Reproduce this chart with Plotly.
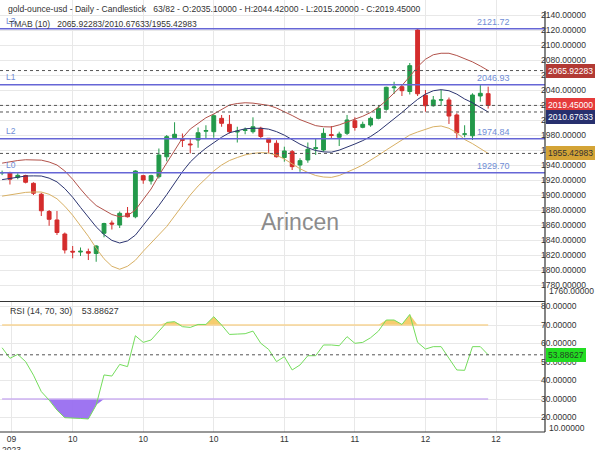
import plotly.graph_objects as go

# ---------------- data ----------------
idx = list(range(63))
opens = [1929.5, 1929.8, 1923.6, 1926.0, 1915.6, 1901.0, 1878.0, 1866.7, 1848.0, 1825.0,
         1824.0, 1824.5, 1822.0, 1849.0, 1862.6, 1860.0, 1875.6, 1871.0, 1925.8, 1918.7,
         1924.4, 1951.0, 1976.4, 1974.0, 1968.0, 1973.3, 1985.0, 1984.4, 2002.2, 1994.2,
         1984.0, 1986.0, 1984.4, 1989.0, 1975.6, 1969.0, 1950.0, 1957.8, 1940.0, 1946.7,
         1962.0, 1960.0, 1980.5, 1977.0, 1982.2, 1999.0, 1990.2, 1993.3, 2002.2, 2014.2,
         2043.0, 2044.4, 2038.0, 2120.0, 2033.0, 2019.0, 2026.5, 2026.7, 2006.7, 1981.0,
         1979.0, 2032.0, 2035.1]
highs = [1932.5, 1931.0, 1929.0, 1927.0, 1917.0, 1903.0, 1880.0, 1878.7, 1850.0, 1832.0,
         1830.0, 1828.5, 1833.0, 1863.0, 1866.0, 1878.0, 1884.0, 1933.0, 1927.0, 1927.0,
         1962.0, 1980.0, 1997.0, 1982.0, 1975.6, 1990.0, 1993.0, 2007.6, 2006.7, 2006.7,
         1991.0, 1990.0, 2003.6, 1991.0, 1976.0, 1973.0, 1964.4, 1960.0, 1949.0, 1970.0,
         1975.6, 1989.0, 1992.0, 1984.4, 2006.7, 2003.6, 1997.8, 2004.4, 2020.0, 2044.4,
         2051.0, 2046.7, 2076.0, 2121.7, 2040.0, 2032.0, 2040.0, 2030.0, 2009.0, 1993.0,
         2035.6, 2046.9, 2044.42]
lows = [1926.5, 1914.0, 1921.0, 1915.5, 1900.0, 1872.0, 1859.0, 1846.7, 1822.0, 1815.6,
        1818.7, 1813.3, 1811.0, 1843.6, 1854.0, 1856.0, 1870.0, 1869.0, 1915.0, 1914.0,
        1922.0, 1945.0, 1975.6, 1964.0, 1955.6, 1963.0, 1975.6, 1976.4, 1991.0, 1982.0,
        1970.0, 1981.0, 1982.0, 1974.7, 1955.6, 1950.0, 1944.4, 1933.3, 1931.0, 1943.0,
        1953.3, 1957.8, 1975.6, 1965.3, 1980.0, 1985.8, 1989.0, 1991.0, 2001.0, 2012.4,
        2034.7, 2032.0, 2034.0, 2032.0, 2011.0, 2017.8, 2019.0, 1994.7, 1974.2, 1977.0,
        1973.3, 2024.4, 2015.2]
closes = [1930.0, 1921.0, 1926.2, 1917.0, 1902.3, 1879.0, 1867.6, 1850.0, 1826.7, 1824.0,
          1825.0, 1822.5, 1832.0, 1862.0, 1861.3, 1875.6, 1871.0, 1932.0, 1920.0, 1925.8,
          1953.3, 1977.8, 1981.0, 1973.0, 1967.0, 1983.0, 1986.0, 2005.8, 1995.6, 1984.4,
          1985.0, 1987.0, 1991.0, 1978.0, 1970.2, 1951.0, 1958.7, 1937.8, 1945.8, 1961.0,
          1963.0, 1982.2, 1979.5, 1981.3, 2000.0, 1990.0, 1994.2, 2002.2, 2015.6, 2043.6,
          2044.0, 2039.1, 2072.5, 2035.0, 2019.0, 2026.7, 2027.0, 2005.3, 1983.0, 1981.5,
          2033.3, 2035.6, 2019.45]

tma_upper = [1942.5, 1944.5, 1946.0, 1947.0, 1947.0, 1946.5, 1944.0, 1940.0, 1932.0, 1921.0,
             1908.0, 1896.0, 1886.0, 1879.5, 1874.0, 1871.0, 1872.5, 1880.0, 1894.0, 1908.0,
             1926.0, 1943.0, 1960.0, 1976.0, 1988.0, 1996.0, 2003.0, 2008.0, 2014.0, 2020.0,
             2022.0, 2023.0, 2022.5, 2021.5, 2019.5, 2016.0, 2011.5, 2006.0, 2000.5, 1996.0,
             1992.5, 1991.0, 1990.7, 1993.5, 1997.0, 2001.0, 2005.0, 2010.0, 2017.0, 2026.0,
             2036.0, 2046.0, 2058.0, 2071.0, 2081.0, 2087.0, 2089.0, 2089.0, 2086.0, 2082.0,
             2077.5, 2072.0, 2065.92283]
tma_mid = [1920.5, 1922.3, 1924.0, 1925.3, 1925.5, 1925.3, 1922.5, 1917.5, 1908.5, 1897.0,
           1883.5, 1870.5, 1857.5, 1847.3, 1839.5, 1836.0, 1838.8, 1846.5, 1859.5, 1872.0,
           1886.0, 1900.5, 1916.0, 1931.0, 1944.0, 1954.0, 1962.5, 1970.0, 1977.0, 1983.0,
           1986.0, 1988.3, 1989.0, 1989.0, 1987.8, 1984.5, 1979.8, 1973.5, 1967.8, 1963.0,
           1959.3, 1957.5, 1957.1, 1959.8, 1963.5, 1968.0, 1972.5, 1978.0, 1985.0, 1993.0,
           2001.5, 2010.0, 2019.0, 2027.5, 2034.5, 2039.0, 2040.5, 2039.0, 2034.5, 2028.0,
           2023.0, 2017.0, 2010.67633]
tma_lower = [1898.5, 1900.0, 1902.0, 1903.5, 1904.0, 1904.0, 1901.0, 1895.0, 1885.0, 1873.0,
             1859.0, 1845.0, 1829.0, 1815.0, 1805.0, 1801.0, 1805.0, 1813.0, 1825.0, 1836.0,
             1846.0, 1858.0, 1872.0, 1886.0, 1900.0, 1912.0, 1922.0, 1932.0, 1940.0, 1946.0,
             1950.0, 1953.5, 1955.5, 1956.5, 1956.0, 1953.0, 1948.0, 1941.0, 1935.0, 1930.0,
             1926.0, 1924.0, 1923.5, 1926.0, 1930.0, 1935.0, 1940.0, 1946.0, 1953.0, 1960.0,
             1967.0, 1974.0, 1980.0, 1984.0, 1988.0, 1991.0, 1992.0, 1989.0, 1983.0, 1974.0,
             1968.5, 1962.0, 1955.42983]

rsi = [57.7, 52.0, 54.1, 50.2, 42.9, 34.0, 29.4, 24.0, 19.9, 19.5,
       19.5, 19.2, 26.7, 43.0, 42.4, 48.7, 47.5, 64.2, 60.6, 61.9,
       66.4, 71.4, 71.8, 69.1, 68.7, 70.3, 70.3, 74.5, 70.0, 64.9,
       65.1, 65.3, 66.7, 60.1, 56.8, 50.2, 52.9, 45.7, 48.4, 53.4,
       53.4, 59.2, 59.2, 58.8, 63.7, 60.1, 60.6, 63.1, 66.7, 72.7,
       72.7, 70.3, 75.7, 60.6, 57.0, 58.3, 58.3, 52.3, 45.7, 45.5,
       58.3, 58.3, 53.88627]

level_names = ["L3", "L1", "L2", "L0"]
level_values = [2121.72, 2046.93, 1974.84, 1929.70]
last_close = 2019.45
rsi_upper_level = 70
rsi_lower_level = 30

x_tick_vals = [1.2, 9, 18, 27, 36, 45, 54, 63]
x_tick_text = ["09<br>2023", "10", "10", "10", "11", "11", "12", "12"]
price_ticks = list(range(1780, 2141, 20))
rsi_ticks = list(range(20, 81, 10))

# ---------------- styles ----------------
FONT = "Liberation Sans, Arial, sans-serif"
GREEN = "#23994a"
RED = "#d42c2c"
TXT = "#333333"
GRID = "#e8e8e8"
BLUE_LINE = "#6666d6"
BLUE_TXT = "#6f8dd6"

H = 432.0  # plot area height in px
def py(pix):
    return (H - pix) / H

fig = go.Figure()

# TMA bands
fig.add_trace(go.Scatter(x=idx, y=tma_upper, mode="lines", line=dict(color="#b2524a", width=1),
                         hoverinfo="skip", xaxis="x", yaxis="y"))
fig.add_trace(go.Scatter(x=idx, y=tma_mid, mode="lines", line=dict(color="#2b3470", width=1),
                         hoverinfo="skip", xaxis="x", yaxis="y"))
fig.add_trace(go.Scatter(x=idx, y=tma_lower, mode="lines", line=dict(color="#d8b064", width=1),
                         hoverinfo="skip", xaxis="x", yaxis="y"))

# candles
fig.add_trace(go.Candlestick(x=idx, open=opens, high=highs, low=lows, close=closes,
                             increasing=dict(line=dict(color=GREEN, width=1), fillcolor=GREEN),
                             decreasing=dict(line=dict(color=RED, width=1), fillcolor=RED),
                             whiskerwidth=0, xaxis="x", yaxis="y", hoverinfo="skip"))

# RSI fills
rsi_low_part = [min(v, rsi_lower_level) for v in rsi]
rsi_high_part = [max(v, rsi_upper_level) for v in rsi]
fig.add_trace(go.Scatter(x=idx, y=[rsi_lower_level] * len(idx), mode="lines",
                         line=dict(color="rgba(0,0,0,0)", width=0), xaxis="x2", yaxis="y2", hoverinfo="skip"))
fig.add_trace(go.Scatter(x=idx, y=rsi_low_part, mode="lines", line=dict(color="rgba(0,0,0,0)", width=0),
                         fill="tonexty", fillcolor="rgba(150,105,240,0.92)", xaxis="x2", yaxis="y2", hoverinfo="skip"))
fig.add_trace(go.Scatter(x=idx, y=[rsi_upper_level] * len(idx), mode="lines",
                         line=dict(color="rgba(0,0,0,0)", width=0), xaxis="x2", yaxis="y2", hoverinfo="skip"))
fig.add_trace(go.Scatter(x=idx, y=rsi_high_part, mode="lines", line=dict(color="rgba(0,0,0,0)", width=0),
                         fill="tonexty", fillcolor="rgba(245,200,95,0.9)", xaxis="x2", yaxis="y2", hoverinfo="skip"))
# RSI level lines
fig.add_trace(go.Scatter(x=[idx[0], idx[-1]], y=[rsi_upper_level] * 2, mode="lines",
                         line=dict(color="#f7d595", width=1.5), xaxis="x2", yaxis="y2", hoverinfo="skip"))
fig.add_trace(go.Scatter(x=[idx[0], idx[-1]], y=[rsi_lower_level] * 2, mode="lines",
                         line=dict(color="#cdb0f2", width=1.5), xaxis="x2", yaxis="y2", hoverinfo="skip"))
# RSI line
fig.add_trace(go.Scatter(x=idx, y=rsi, mode="lines", line=dict(color="#74dd5c", width=1),
                         xaxis="x2", yaxis="y2", hoverinfo="skip"))

shapes = []
# level lines (blue)
for v in level_values:
    shapes.append(dict(type="line", xref="paper", x0=0, x1=1, yref="y", y0=v, y1=v,
                       line=dict(color=BLUE_LINE, width=1.5)))
# dotted lines
for v in [tma_upper[-1], last_close, tma_mid[-1], tma_lower[-1]]:
    shapes.append(dict(type="line", xref="paper", x0=0, x1=1, yref="y", y0=v, y1=v,
                       line=dict(color="#555555", width=1, dash="dot")))
shapes.append(dict(type="line", xref="paper", x0=0, x1=1, yref="y2", y0=rsi[-1], y1=rsi[-1],
                   line=dict(color="#555555", width=1, dash="dot")))
# frame lines
shapes.append(dict(type="line", xref="paper", x0=1, x1=1, yref="paper", y0=0, y1=py(11),
                   line=dict(color="#333333", width=1.2)))
shapes.append(dict(type="line", xref="paper", x0=0, x1=1, yref="paper", y0=py(301.5), y1=py(301.5),
                   line=dict(color="#333333", width=1.2)))
shapes.append(dict(type="line", xref="paper", x0=0, x1=1, yref="paper", y0=0, y1=0,
                   line=dict(color="#333333", width=1.2)))

ann = []
# header texts
ann.append(dict(xref="paper", yref="paper", x=6 / 545, y=py(9), xanchor="left", yanchor="middle",
                text="gold-ounce-usd - Daily - Candlestick   63/82 - O:2035.10000 - H:2044.42000 - L:2015.20000 - C:2019.45000",
                showarrow=False, font=dict(size=8.6, color=TXT, family=FONT)))
ann.append(dict(xref="paper", yref="paper", x=7 / 545, y=py(24.5), xanchor="left", yanchor="middle",
                text="TMAB (10)   %.5f/%.5f/%.5f" % (tma_upper[-1], tma_mid[-1], tma_lower[-1]),
                showarrow=False, font=dict(size=8.5, color=TXT, family=FONT)))
ann.append(dict(xref="paper", yref="paper", x=8 / 545, y=py(311), xanchor="left", yanchor="middle",
                text="RSI (14, 70, 30)    %.5f" % rsi[-1],
                showarrow=False, font=dict(size=8.8, color=TXT, family=FONT)))
# watermark
ann.append(dict(xref="paper", yref="paper", x=300 / 545, y=py(222), xanchor="center", yanchor="middle",
                text="Arincen", showarrow=False, font=dict(size=23, color="#8c8c8c", family=FONT)))
# level labels
for name, v in zip(level_names, level_values):
    ann.append(dict(xref="paper", yref="y", x=4 / 545, y=v, yshift=8, xanchor="left", yanchor="middle",
                    text=name, showarrow=False, font=dict(size=8.5, color=BLUE_TXT, family=FONT)))
    ann.append(dict(xref="paper", yref="y", x=493 / 545, y=v, yshift=7, xanchor="center", yanchor="middle",
                    text="%.2f" % v, showarrow=False, font=dict(size=9, color=BLUE_TXT, family=FONT)))
# price boxes
boxes = [(tma_upper[-1], "#b23a34", "white", 0, "y"),
         (last_close, "#e53b3b", "white", 0, "y"),
         (tma_mid[-1], "#27306e", "white", -5, "y"),
         (tma_lower[-1], "#d4a436", "#333333", 0, "y"),
         (rsi[-1], "#22dd22", "#224422", 0, "y2")]
for v, bg, fc, ys, yr in boxes:
    ann.append(dict(xref="paper", yref=yr, x=1, xshift=1, y=v, yshift=ys, xanchor="left", yanchor="middle",
                    text="%.5f" % v, showarrow=False, bgcolor=bg, bordercolor=bg, borderpad=1,
                    font=dict(size=8.5, color=fc, family=FONT)))
# clamped bottom labels
ann.append(dict(xref="paper", yref="paper", x=1, xshift=2, y=py(291), xanchor="left", yanchor="middle",
                text="1760.00000", showarrow=False, font=dict(size=8.5, color=TXT, family=FONT)))
ann.append(dict(xref="paper", yref="paper", x=1, xshift=2, y=py(428), xanchor="left", yanchor="middle",
                text="10.00000", showarrow=False, font=dict(size=8.5, color=TXT, family=FONT)))

xr = [-0.268, 69.25]
main_ticks = x_tick_vals[1:]
fig.update_layout(
    width=600, height=450, margin=dict(l=0, r=55, t=0, b=18),
    paper_bgcolor="white", plot_bgcolor="white", showlegend=False,
    font=dict(family=FONT, size=8.5, color=TXT),
    shapes=shapes, annotations=ann,
    xaxis=dict(domain=[0, 1], anchor="y", range=xr, tickvals=main_ticks, showticklabels=False,
               showgrid=True, gridcolor=GRID, zeroline=False, rangeslider=dict(visible=False),
               ticks="", fixedrange=True),
    yaxis=dict(domain=[py(301), 1], anchor="x", range=[2160 - 301 * 4 / 3, 2160], side="right",
               tickvals=price_ticks, tickformat=".5f", showgrid=True, gridcolor=GRID, zeroline=False,
               ticks="", tickfont=dict(size=8.5, color=TXT), automargin=False, ticklabelstandoff=-5),
    xaxis2=dict(domain=[0, 1], anchor="y2", range=xr, tickvals=x_tick_vals, ticktext=x_tick_text,
                showgrid=True, gridcolor=GRID, zeroline=False, ticks="", tickfont=dict(size=8.5, color=TXT),
                automargin=False),
    yaxis2=dict(domain=[0, py(302)], anchor="x2", range=[70 - (432 - 325) / 1.85, 70 + (325 - 302) / 1.85],
                side="right", tickvals=rsi_ticks, tickformat=".5f", showgrid=True, gridcolor=GRID,
                zeroline=False, ticks="", tickfont=dict(size=8.5, color=TXT), automargin=False,
                ticklabelstandoff=-5),
)

fig.write_html("out.html")
